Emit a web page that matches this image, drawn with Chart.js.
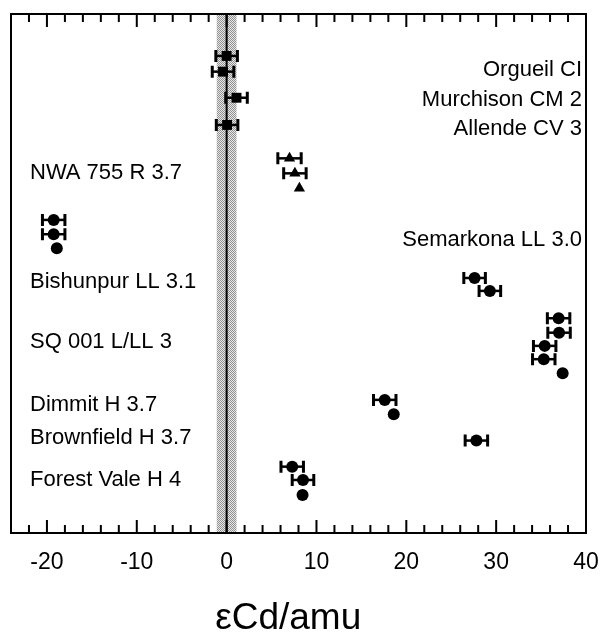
<!DOCTYPE html>
<html><head><meta charset="utf-8">
<script src="https://cdn.jsdelivr.net/npm/chart.js@4/dist/chart.umd.min.js"></script>
<style>html,body{margin:0;padding:0;background:#fff;}</style>
</head><body>
<canvas id="c" width="601" height="637"></canvas>
<script>
// ---- data ----
const names = ['Orgueil CI','Murchison CM 2','Allende CV 3','NWA 755 R 3.7','Semarkona LL 3.0','Bishunpur LL 3.1','SQ 001 L/LL 3','Dimmit H 3.7','Brownfield H 3.7','Forest Vale H 4'];
const labelRow = [4.0, 6.1, 8.2, 11.3, 16.1, 19.1, 23.4, 27.9, 30.2, 33.2];
const labelSide = ['right','right','right','left','right','left','left','left','left','left'];

// carbonaceous chondrites (squares)
const sqX = [0.0, -0.4, 1.1, 0.05];
const sqRow = [2.99, 4.11, 5.97, 7.91];
const sqErr = [1.2, 1.2, 1.2, 1.2];

// NWA 755 (triangles)
const triX = [7.0, 7.6, 8.1];
const triRow = [10.29, 11.36, 12.42];
const triErr = [1.3, 1.25, 0];

// ordinary chondrites (circles)
const circX = [-19.25, -19.25, -18.9, 27.6, 29.3, 36.95, 37.0, 35.4, 35.3, 37.4, 17.6, 18.6, 27.8, 7.3, 8.5, 8.45];
const circRow = [14.68, 15.7, 16.7, 18.82, 19.74, 21.69, 22.72, 23.66, 24.61, 25.61, 27.51, 28.53, 30.41, 32.27, 33.22, 34.29];
const circErr = [1.25, 1.25, 0, 1.2, 1.2, 1.25, 1.25, 1.25, 1.25, 0, 1.25, 0, 1.25, 1.25, 1.2, 0];

const xTickLabels = [-20, -10, 0, 10, 20, 30, 40];
const xMin = -24, xMax = 40, rowMax = 37;
const bandHalf = 1.1;

const FONT = "'Liberation Sans', Arial, Helvetica, sans-serif";

function pts(xs, rows, errs) {
  return xs.map((x, i) => ({x: x, y: rows[i], err: errs[i]}));
}

const decor = {
  id: 'decor',
  beforeDatasetsDraw(chart) {
    const {ctx, chartArea: a, scales: {x, y}} = chart;
    ctx.save();
    // stippled band
    const pc = document.createElement('canvas');
    pc.width = 2; pc.height = 2;
    const p = pc.getContext('2d');
    p.fillStyle = '#e8e8e8'; p.fillRect(0, 0, 2, 2);
    p.fillStyle = '#909090'; p.fillRect(0, 0, 1, 1); p.fillRect(1, 1, 1, 1);
    ctx.fillStyle = ctx.createPattern(pc, 'repeat');
    const b0 = x.getPixelForValue(-bandHalf), b1 = x.getPixelForValue(bandHalf);
    ctx.fillRect(b0, a.top, b1 - b0, a.bottom - a.top);
    // zero line
    ctx.strokeStyle = '#000'; ctx.lineWidth = 2;
    const z = x.getPixelForValue(0);
    ctx.beginPath(); ctx.moveTo(z, a.top); ctx.lineTo(z, a.bottom); ctx.stroke();
    // error bars
    chart.data.datasets.forEach(ds => {
      ds.data.forEach(d => {
        if (!d.err) return;
        const py = y.getPixelForValue(d.y);
        const l = x.getPixelForValue(d.x - d.err), r = x.getPixelForValue(d.x + d.err);
        ctx.lineWidth = 2.5;
        ctx.beginPath(); ctx.moveTo(l, py); ctx.lineTo(r, py); ctx.stroke();
        ctx.lineWidth = 3;
        ctx.beginPath();
        ctx.moveTo(l, py - 6); ctx.lineTo(l, py + 6);
        ctx.moveTo(r, py - 6); ctx.lineTo(r, py + 6);
        ctx.stroke();
      });
    });
    ctx.restore();
  },
  afterDraw(chart) {
    const {ctx, chartArea: a, scales: {x, y}} = chart;
    ctx.save();
    ctx.strokeStyle = '#000';
    ctx.lineWidth = 2;
    ctx.strokeRect(a.left, a.top, a.right - a.left, a.bottom - a.top);
    // inward ticks top and bottom
    for (let v = xMin + 2; v < xMax; v += 2) {
      const px = x.getPixelForValue(v);
      const len = (v % 10 === 0) ? 13 : 8;
      ctx.beginPath();
      ctx.moveTo(px, a.bottom); ctx.lineTo(px, a.bottom - len);
      ctx.moveTo(px, a.top); ctx.lineTo(px, a.top + len);
      ctx.stroke();
    }
    // sample labels
    ctx.fillStyle = '#000';
    ctx.font = '22px ' + FONT;
    ctx.textBaseline = 'middle';
    names.forEach((n, i) => {
      const py = y.getPixelForValue(labelRow[i]);
      if (labelSide[i] === 'right') {
        ctx.textAlign = 'right';
        ctx.fillText(n, a.right - 4, py);
      } else {
        ctx.textAlign = 'left';
        ctx.fillText(n, a.left + 19, py);
      }
    });
    ctx.restore();
  }
};

new Chart(document.getElementById('c'), {
  type: 'scatter',
  data: {
    datasets: [
      {label: 'carbonaceous', data: pts(sqX, sqRow, sqErr), pointStyle: 'rect', pointRadius: 7, backgroundColor: '#000', borderWidth: 0},
      {label: 'NWA 755', data: pts(triX, triRow, triErr), pointStyle: 'triangle', pointRadius: 6.5, backgroundColor: '#000', borderWidth: 0},
      {label: 'ordinary', data: pts(circX, circRow, circErr), pointStyle: 'circle', pointRadius: 6, backgroundColor: '#000', borderWidth: 0}
    ]
  },
  options: {
    responsive: false,
    devicePixelRatio: 1,
    animation: false,
    layout: {padding: {left: 11, right: 15, top: 14, bottom: 0}},
    plugins: {legend: {display: false}, tooltip: {enabled: false}},
    scales: {
      x: {
        type: 'linear', min: xMin, max: xMax,
        grid: {display: false, drawTicks: false},
        border: {display: false},
        afterFit(s) { s.height = 104; s.paddingLeft = 0; s.paddingRight = 0; },
        ticks: {
          stepSize: 10, includeBounds: false, padding: 16, maxRotation: 0,
          color: '#000', font: {family: FONT, size: 23},
          callback: v => xTickLabels.includes(v) ? String(v) : ''
        },
        title: {display: true, text: 'εCd/amu\u00a0\u00a0', color: '#000', font: {family: FONT, size: 37}, padding: {top: 0, bottom: -4}}
      },
      y: {type: 'linear', reverse: true, min: 0, max: rowMax, display: false}
    }
  },
  plugins: [decor]
});
</script>
</body></html>
